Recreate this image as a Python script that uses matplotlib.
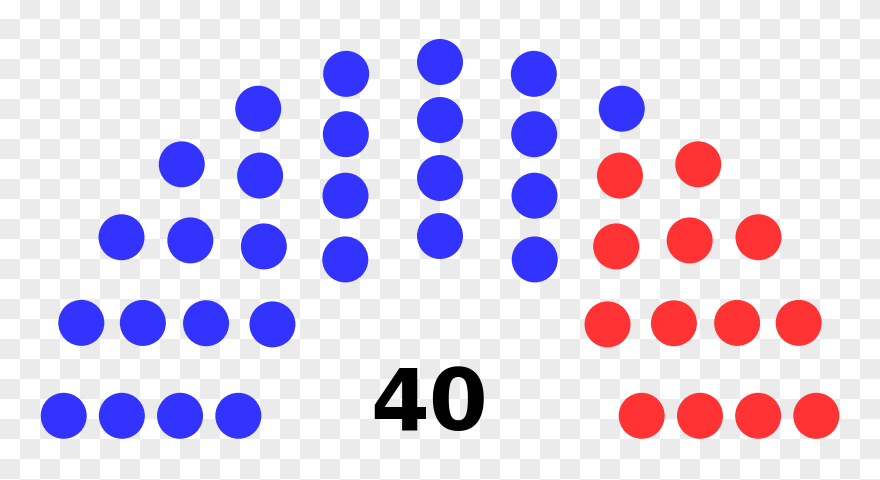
import numpy as np
import matplotlib
matplotlib.use("Agg")
import matplotlib.pyplot as plt

# parliament composition
party_names = ["Blue", "Red"]
party_seats = [27, 13]
party_colors = ["#3333ff", "#ff3333"]
total_seats = sum(party_seats)

# seats per row, inner to outer
row_seats = [7, 9, 11, 13]
row_radii = [3.5, 4.5, 5.5, 6.5]
dot_r = 0.4  # seat radius, same units as row radii

# seat positions: each row is an arc, trimmed so end seats sit on the baseline
angles = []
xs = []
ys = []
for n, r in zip(row_seats, row_radii):
    a0 = np.arcsin(dot_r / r)
    th = np.linspace(np.pi - a0, a0, n)
    angles.extend(th)
    xs.extend(r * np.cos(th))
    ys.extend(r * np.sin(th))
angles = np.array(angles)
xs = np.array(xs)
ys = np.array(ys)

# fill seats from the left, in order of angle
order = np.argsort(-angles, kind="stable")
seat_colors = np.empty(total_seats, dtype=object)
pos = 0
for seats, col in zip(party_seats, party_colors):
    seat_colors[order[pos:pos + seats]] = col
    pos += seats

fig = plt.figure(figsize=(8.8, 4.81), dpi=100)

# checkered background
bg = fig.add_axes([0, 0, 1, 1])
checker = (np.add.outer(np.arange(25), np.arange(44)) % 2).astype(float)
bg.imshow(checker, cmap=matplotlib.colors.ListedColormap(["#ffffff", "#ebebeb"]),
          extent=(0, 880, 500, 0), interpolation="nearest", aspect="auto")
bg.set_xlim(0, 880)
bg.set_ylim(481, 0)
bg.axis("off")
bg.text(429, 430, str(total_seats), ha="center", va="baseline",
        fontsize=61, fontweight="bold", color="black")

ax = fig.add_axes([0, 0, 1, 1])
ax.patch.set_alpha(0)
ax.scatter(xs, ys, s=1097, c=list(seat_colors), linewidths=0)
ax.set_xlim(-7.586, 7.586)
ax.set_ylim(-0.707, 7.586)
ax.axis("off")

fig.savefig("out.png", dpi=100)
